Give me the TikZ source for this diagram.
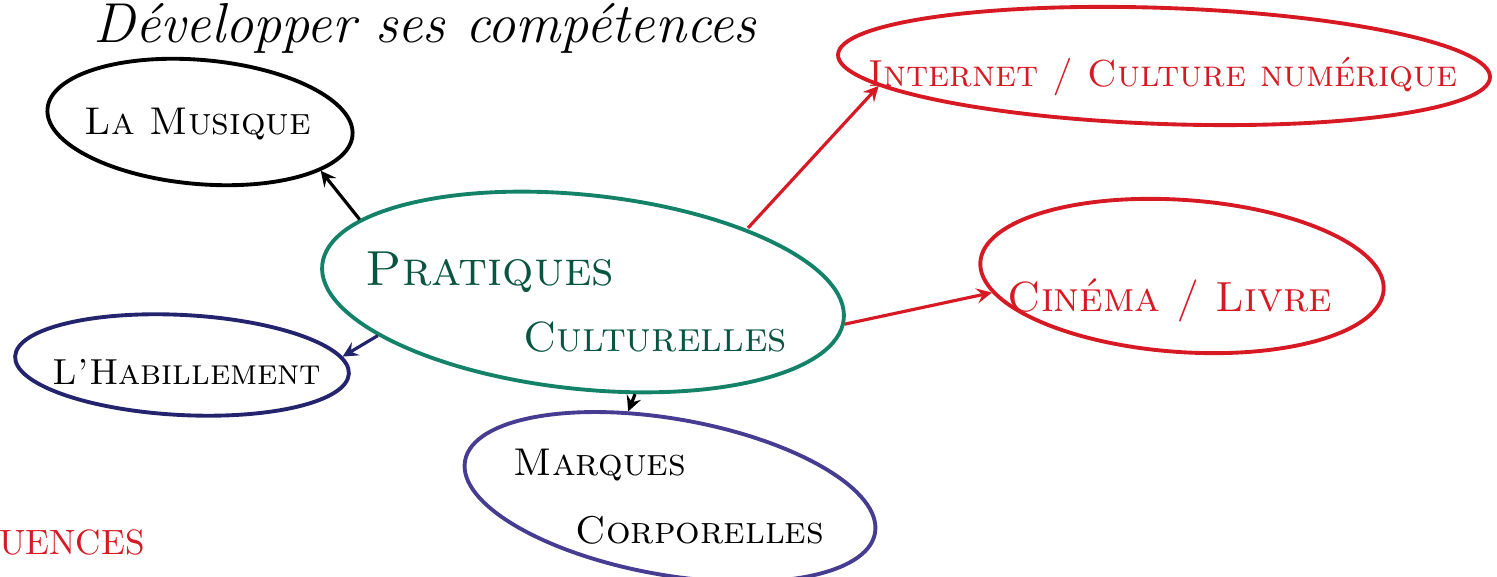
\documentclass[tikz,border=0pt]{standalone}
\usepackage{tikz}
\usetikzlibrary{shapes.geometric}
\definecolor{vertprat}{RGB}{20,130,105}
\definecolor{textprat}{RGB}{10,85,65}
\definecolor{bleuhab}{RGB}{35,35,110}
\definecolor{bleumarq}{RGB}{70,60,145}
\definecolor{rouge}{RGB}{215,25,35}

\begin{document}
\begin{tikzpicture}[x=0.01cm,y=-0.01cm,
	bulle/.style={ellipse, draw, line width=1.1pt, inner sep=0pt},
	lien/.style={-stealth, line width=0.9pt},
	ecrit/.style={font=\fontsize{#1}{#1}\selectfont\scshape, inner sep=0pt}]
	\pgfmathsetmacro{\larg}{1497}
	\pgfmathsetmacro{\haut}{577}
	\useasboundingbox (0,0) rectangle (\larg,\haut);
	% les bulles
	\node[bulle, minimum width=3.06cm, minimum height=1.24cm, rotate=-5] (musique) at (200,122) {};
	\node[bulle, draw=vertprat, minimum width=5.24cm, minimum height=1.94cm, rotate=-6] (prat) at (583,292) {};
	\node[bulle, draw=bleuhab, minimum width=3.34cm, minimum height=1.0cm, rotate=-3] (habil) at (182,365) {};
	\node[bulle, draw=bleumarq, minimum width=4.16cm, minimum height=1.56cm, rotate=-10] (marques) at (670,497) {};
	\node[bulle, draw=rouge, minimum width=6.52cm, minimum height=1.16cm, rotate=-2] (inet) at (1164,66) {};
	\node[bulle, draw=rouge, minimum width=4.04cm, minimum height=1.52cm, rotate=-4] (cine) at (1182,276) {};
	% les textes
	\node[inner sep=0pt, font=\fontsize{16}{18}\selectfont\itshape] (titre) at (425,28) {Développer ses compétences};
	\node[ecrit=11] (tmusique) at (198,124) {La Musique};
	\node[ecrit=14, text=textprat] (tprat1) at (490,272) {Pratiques};
	\node[ecrit=12, text=textprat] (tprat2) at (655,337) {Culturelles};
	\node[ecrit=10.3] (thabil) at (187,372) {L'Habillement};
	\node[ecrit=11] (tmarq1) at (600,465) {Marques};
	\node[ecrit=11] (tmarq2) at (700,530) {Corporelles};
	\node[ecrit=10.7, text=rouge] (tinet) at (1163,77) {Internet / Culture numérique};
	\node[ecrit=12, text=rouge] (tcine) at (1170,300) {Cinéma / Livre};
	\node[inner sep=0pt, font=\fontsize{10}{12}\selectfont, text=rouge] (tfin) at (72,542) {UENCES};
	% les liens
	\coordinate (depart) at (748,228);
	\draw[lien] (prat.168) -- (musique.-17);
	\draw[lien, bleuhab] (prat.198) -- (habil.6);
	\draw[lien] (prat.-57) -- (marques.126);
	\draw[lien, rouge] (depart) -- (inet.186);
	\draw[lien, rouge] (prat.-1) -- (cine.189);
\end{tikzpicture}
\end{document}
